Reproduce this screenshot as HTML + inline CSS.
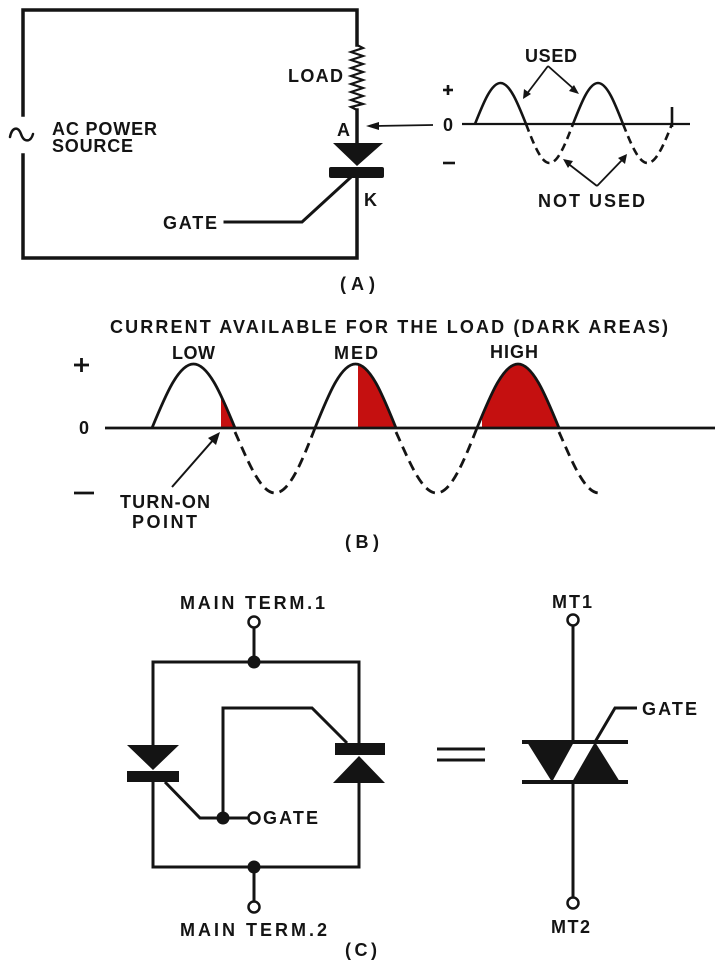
<!DOCTYPE html>
<html><head><meta charset="utf-8"><style>
html,body{margin:0;padding:0;background:#fff;}
svg{display:block;}
text{font-family:"Liberation Sans",sans-serif;font-weight:bold;font-size:18px;fill:#141414;}
</style></head><body>
<svg width="720" height="965" viewBox="0 0 720 965" xmlns="http://www.w3.org/2000/svg">
<defs>
<clipPath id="c1"><rect x="221" y="300" width="30" height="130"/></clipPath>
<clipPath id="c2"><rect x="358" y="300" width="50" height="130"/></clipPath>
<clipPath id="c3"><rect x="482" y="300" width="90" height="130"/></clipPath>
</defs>
<rect width="720" height="965" fill="#fff"/>
<g stroke="#141414" fill="none" stroke-width="3.5" stroke-linecap="square">
<!-- Part A frame -->
<path d="M23,115 V10 H357 V45"/>
<path d="M23,155 V258 H357 V178"/>
<path d="M357,110 V143"/>
<path d="M357,45 L363,48 L351,52 L363,56 L351,60 L363,64 L351,68 L363,72 L351,76 L363,80 L351,84 L363,88 L351,92 L363,96 L351,100 L363,104 L351,107 L357,110" stroke-width="2.2" stroke-linejoin="miter"/>
<path d="M10,137 C12,127 18,126 21,134 C24,143 31,142 33,134" stroke-width="2.5" stroke-linecap="round"/>
<path d="M350,178 L302,222 L225,222" stroke-width="3"/>
</g>
<polygon points="333,143 383,143 357,166" fill="#141414"/>
<rect x="329" y="167" width="55" height="11" rx="2" fill="#141414"/>
<!-- arrow to A -->
<line x1="376" y1="126" x2="433" y2="125" stroke="#141414" stroke-width="1.8"/>
<polygon points="366,126 379,122 379,130" fill="#141414"/>
<text x="288" y="82" textLength="55" lengthAdjust="spacing">LOAD</text>
<text x="337" y="136">A</text>
<text x="364" y="206">K</text>
<text x="52" y="135" textLength="105" lengthAdjust="spacing">AC POWER</text>
<text x="52" y="152" textLength="81" lengthAdjust="spacing">SOURCE</text>
<text x="163" y="229" textLength="54" lengthAdjust="spacing">GATE</text>
<text x="340" y="290" textLength="35" lengthAdjust="spacing">(A)</text>

<!-- Part A waveform -->
<g stroke="#141414" fill="none" stroke-width="2.6">
<line x1="443" y1="90" x2="453" y2="90"/><line x1="448" y1="85" x2="448" y2="95"/>
<line x1="443" y1="163" x2="455" y2="163"/>
<line x1="462" y1="124" x2="690" y2="124" stroke-width="2.2"/>
<path d="M475,124 C483.3,103 491.3,83 500.5,83 C509.7,83 517.7,103 526,124"/>
<path d="M573,124 C581.2,103 589,83 598,83 C607,83 614.8,103 623,124"/>
<path d="M526,124 C533.7,144 541,163 549.5,163 C558,163 565.3,144 573,124" stroke-dasharray="8,5"/>
<path d="M623,124 C631,144 638.6,163 647.5,163 C656.4,163 664,144 672,124" stroke-dasharray="8,5"/>
<line x1="672" y1="107" x2="672" y2="127"/>
<g stroke-width="1.8">
<line x1="548" y1="66" x2="526" y2="95"/>
<line x1="548" y1="66" x2="575" y2="90"/>
<line x1="597" y1="186" x2="566" y2="162"/>
<line x1="597" y1="186" x2="624" y2="158"/>
</g>
</g>
<g fill="#141414">
<polygon points="523,99 524,89 531,94"/>
<polygon points="579,94 569,91 574,85"/>
<polygon points="563,159 573,161 568,168"/>
<polygon points="627,154 625,164 618,158"/>
</g>
<text x="443" y="131" font-size="19">0</text>
<text x="525" y="62" textLength="52" lengthAdjust="spacing">USED</text>
<text x="538" y="207" textLength="107" lengthAdjust="spacing">NOT USED</text>

<!-- Part B -->
<text x="110" y="333" textLength="558" lengthAdjust="spacing">CURRENT AVAILABLE FOR THE LOAD (DARK AREAS)</text>
<text x="172" y="359" textLength="43" lengthAdjust="spacing">LOW</text>
<text x="334" y="359" textLength="44" lengthAdjust="spacing">MED</text>
<text x="490" y="358" textLength="48" lengthAdjust="spacing">HIGH</text>
<text x="79" y="434" font-size="16">0</text>
<g fill="#c51010">
<path clip-path="url(#c1)" d="M152,428 C165.5,395.2 178.5,364 193.5,364 C208.5,364 221.5,395.2 235,428 Z"/>
<path clip-path="url(#c2)" d="M315,428 C328.2,395.2 340.8,364 355.5,364 C370.2,364 382.8,395.2 396,428 Z"/>
<path clip-path="url(#c3)" d="M477,428 C490.4,395.2 503.2,364 518,364 C532.8,364 545.6,395.2 559,428 Z"/>
</g>
<g stroke="#141414" fill="none" stroke-width="2.8">
<line x1="74" y1="365" x2="89" y2="365"/><line x1="81.5" y1="358" x2="81.5" y2="372"/>
<line x1="74" y1="493" x2="94" y2="493"/>
<line x1="105" y1="428" x2="715" y2="428"/>
<path d="M152,428 C165.5,395.2 178.5,364 193.5,364 C208.5,364 221.5,395.2 235,428"/>
<path d="M315,428 C328.2,395.2 340.8,364 355.5,364 C370.2,364 382.8,395.2 396,428"/>
<path d="M477,428 C490.4,395.2 503.2,364 518,364 C532.8,364 545.6,395.2 559,428"/>
<g stroke-dasharray="10,6">
<path d="M235,432 C248,461.3 260.5,493 275,493 C289.5,493 302,461.3 315,428"/>
<path d="M396,432 C409.2,461.3 421.8,493 436.5,493 C451.2,493 463.8,461.3 477,428"/>
<path d="M559,432 C572,461.3 584.5,493 599,493"/>
</g>
<line x1="172" y1="487" x2="214" y2="439" stroke-width="2"/>
</g>
<polygon points="220,432 216,445 208,438" fill="#141414"/>
<text x="120" y="508" textLength="90" lengthAdjust="spacing">TURN-ON</text>
<text x="132" y="528" textLength="65" lengthAdjust="spacing">POINT</text>
<text x="345" y="548" textLength="34" lengthAdjust="spacing">(B)</text>

<!-- Part C left -->
<g stroke="#141414" fill="none" stroke-width="3">
<path d="M254,628 V662"/>
<path d="M153,745 V662 H359 V743"/>
<path d="M153,782 V867 H359 V783"/>
<path d="M254,867 V901"/>
<path d="M165,782 L200,818 L248,818"/>
<path d="M223,818 V708 H312 L347,743"/>
<circle cx="254" cy="622" r="5.5" fill="#fff" stroke-width="2.5"/>
<circle cx="254" cy="818" r="5.5" fill="#fff" stroke-width="2.5"/>
<circle cx="254" cy="907" r="5.5" fill="#fff" stroke-width="2.5"/>
</g>
<g fill="#141414">
<circle cx="254" cy="662" r="6.5"/>
<circle cx="223" cy="818" r="6.5"/>
<circle cx="254" cy="867" r="6.5"/>
<polygon points="127,745 179,745 153,770"/>
<rect x="127" y="771" width="52" height="11"/>
<rect x="335" y="743" width="50" height="12"/>
<polygon points="333,783 385,783 359,756"/>
</g>
<text x="180" y="609" textLength="145" lengthAdjust="spacing">MAIN TERM.1</text>
<text x="263" y="824" textLength="55" lengthAdjust="spacing">GATE</text>
<text x="180" y="936" textLength="147" lengthAdjust="spacing">MAIN TERM.2</text>
<text x="345" y="956" textLength="32" lengthAdjust="spacing">(C)</text>

<!-- Part C right -->
<g stroke="#141414" fill="none" stroke-width="3">
<line x1="437" y1="749" x2="485" y2="749"/>
<line x1="437" y1="760" x2="485" y2="760"/>
<path d="M573,626 V742"/>
<path d="M573,782 V897"/>
<line x1="522" y1="742" x2="628" y2="742" stroke-width="4"/>
<line x1="522" y1="782" x2="628" y2="782" stroke-width="4"/>
<path d="M595,742 L615,708 L637,708"/>
<circle cx="573" cy="620" r="5.5" fill="#fff" stroke-width="2.5"/>
<circle cx="573" cy="903" r="5.5" fill="#fff" stroke-width="2.5"/>
</g>
<g fill="#141414">
<polygon points="527,742 574,742 552,782"/>
<polygon points="572,782 620,782 595,742"/>
</g>
<text x="552" y="608" textLength="40" lengthAdjust="spacing">MT1</text>
<text x="642" y="715" textLength="55" lengthAdjust="spacing">GATE</text>
<text x="551" y="933" textLength="39" lengthAdjust="spacing">MT2</text>
</svg>
</body></html>
